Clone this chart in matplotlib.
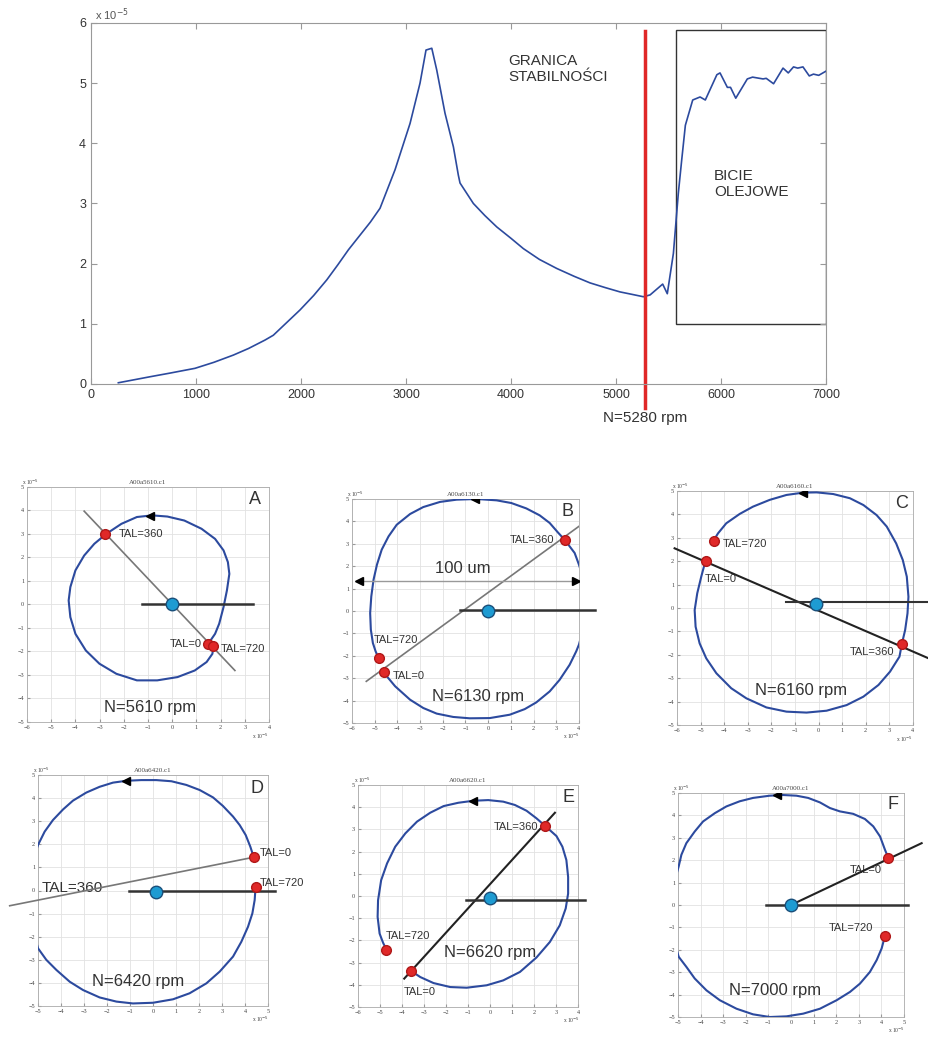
import matplotlib.pyplot as plt
from matplotlib.patches import Rectangle

plt.rcParams['font.family'] = ['Liberation Sans', 'DejaVu Sans']

# amplituda drgań wału w funkcji prędkości obrotowej (x 1e-5)
predkosc = [260, 562, 750, 990, 1170, 1355, 1500, 1657, 1736, 1990, 2120, 2245, 2350, 2451,
            2560, 2660, 2752, 2895, 3038, 3133, 3190, 3245, 3292, 3371, 3451, 3498, 3514,
            3641, 3750, 3864, 4000, 4117, 4270, 4435, 4600, 4752, 4900, 5038, 5150, 5260,
            5324, 5444, 5488, 5546, 5593, 5625, 5660, 5730, 5800, 5850, 5960, 5990, 6060,
            6090, 6140, 6250, 6300, 6400, 6430, 6500, 6590, 6640, 6690, 6730, 6780, 6840,
            6880, 6930, 7000]
amplituda = [0.02, 0.12, 0.18, 0.26, 0.36, 0.48, 0.59, 0.73, 0.81, 1.23, 1.47, 1.73, 1.98,
             2.23, 2.47, 2.69, 2.92, 3.56, 4.33, 5.00, 5.55, 5.58, 5.22, 4.50, 3.94, 3.47,
             3.34, 3.00, 2.80, 2.61, 2.42, 2.25, 2.07, 1.92, 1.79, 1.68, 1.60, 1.53, 1.49,
             1.45, 1.48, 1.66, 1.50, 2.17, 3.17, 3.72, 4.30, 4.72, 4.77, 4.72, 5.14, 5.17,
             4.93, 4.93, 4.75, 5.07, 5.10, 5.07, 5.08, 4.99, 5.25, 5.17, 5.27, 5.25, 5.27,
             5.12, 5.15, 5.13, 5.20]
granica = 5280
bicie_x = [5570, 7000]
bicie_y = [1.0, 5.88]

# orbity czopa (x 1e-5), od TAL=0 do TAL=720
orbA_x = [1.49, 1.77, 1.94, 2.12, 2.26, 2.36, 2.30, 2.12, 1.77, 1.21, 0.50, -0.20, -0.83,
          -1.46, -2.10, -2.73, -3.22, -3.64, -4.00, -4.21, -4.28, -4.21, -4.00, -3.57, -3.01,
          -2.31, -1.46, -0.62, 0.22, 0.93, 1.42, 1.66, 1.70]
orbA_y = [-1.67, -1.25, -0.82, -0.11, 0.60, 1.30, 1.80, 2.30, 2.79, 3.22, 3.57, 3.74, 3.79,
          3.72, 3.43, 3.00, 2.58, 2.08, 1.45, 0.74, 0.17, -0.54, -1.25, -1.96, -2.52, -2.95,
          -3.23, -3.23, -3.09, -2.81, -2.45, -2.10, -1.77]
orbB_x = [-4.61, -4.10, -3.44, -2.86, -2.27, -1.54, -0.81, 0.07, 0.95, 1.61, 2.12, 2.71,
          3.15, 3.59, 3.88, 4.00, 4.25, 4.32, 4.25, 4.00, 3.81, 3.37, 3.07, 2.71, 2.27, 1.68,
          1.02, 0.37, -0.51, -1.39, -2.12, -2.86, -3.44, -4.03, -4.39, -4.69, -4.90, -5.05,
          -5.15, -5.20, -5.17, -5.08, -4.96, -4.83]
orbB_y = [-2.74, -3.36, -3.96, -4.33, -4.58, -4.73, -4.79, -4.78, -4.63, -4.38, -4.08, -3.59,
          -3.07, -2.40, -1.80, -1.50, -0.54, 0.36, 1.25, 2.07, 2.59, 3.18, 3.51, 3.93, 4.27,
          4.58, 4.82, 4.94, 5.00, 4.97, 4.87, 4.64, 4.33, 3.85, 3.33, 2.74, 2.07, 1.40, 0.65,
          -0.09, -0.83, -1.43, -1.80, -2.10]
orbC_x = [-4.79, -4.97, -5.14, -5.25, -5.21, -5.04, -4.76, -4.33, -3.70, -3.06, -2.21, -1.36,
          -0.51, 0.34, 1.19, 1.90, 2.54, 3.03, 3.43, 3.53, 3.67, 3.77, 3.81, 3.74, 3.57, 3.29,
          2.89, 2.46, 1.90, 1.33, 0.62, -0.08, -0.65, -1.36, -2.07, -2.78, -3.34, -3.91,
          -4.26, -4.45]
orbC_y = [2.02, 1.34, 0.63, -0.09, -0.80, -1.51, -2.15, -2.79, -3.43, -3.86, -4.25, -4.43,
          -4.47, -4.39, -4.15, -3.79, -3.29, -2.72, -2.08, -1.54, -0.94, -0.23, 0.48, 1.34,
          2.05, 2.76, 3.48, 3.97, 4.40, 4.69, 4.87, 4.94, 4.93, 4.83, 4.62, 4.33, 4.02, 3.62,
          3.19, 2.88]
orbD_x = [4.38, 4.23, 4.03, 3.77, 3.48, 3.04, 2.61, 2.03, 1.45, 0.80, 0.14, -0.51, -1.16,
          -1.74, -2.32, -2.90, -3.48, -3.91, -4.35, -4.71, -5.00, -5.22, -5.33, -5.32, -5.22,
          -5.00, -4.64, -4.20, -3.62, -3.04, -2.32, -1.59, -0.87, 0.00, 0.87, 1.59, 2.32,
          2.90, 3.48, 3.84, 4.13, 4.32, 4.42, 4.46]
orbD_y = [1.44, 1.90, 2.40, 2.83, 3.20, 3.66, 4.03, 4.35, 4.57, 4.73, 4.78, 4.78, 4.75, 4.67,
          4.49, 4.24, 3.89, 3.51, 3.05, 2.55, 1.97, 1.32, 0.31, -0.70, -1.71, -2.50, -3.00,
          -3.44, -3.95, -4.31, -4.63, -4.81, -4.89, -4.86, -4.71, -4.45, -4.02, -3.51, -2.86,
          -2.22, -1.57, -0.99, -0.41, 0.17]
orbE_x = [-3.58, -3.17, -2.57, -1.81, -1.06, -0.15, 0.60, 1.36, 2.11, 2.72, 3.17, 3.44, 3.55,
          3.55, 3.47, 3.29, 3.02, 2.49, 2.11, 1.66, 1.13, 0.60, -0.08, -0.76, -1.44, -2.11,
          -2.72, -3.32, -3.85, -4.31, -4.68, -4.95, -5.09, -5.11, -5.02, -4.86, -4.71]
orbE_y = [-3.38, -3.65, -3.92, -4.10, -4.13, -4.02, -3.80, -3.42, -2.77, -2.07, -1.32, -0.56,
          0.11, 0.86, 1.62, 2.22, 2.70, 3.17, 3.50, 3.84, 4.10, 4.25, 4.32, 4.29, 4.20, 4.05,
          3.75, 3.35, 2.82, 2.22, 1.47, 0.71, -0.19, -0.94, -1.69, -2.11, -2.41]
orbF_x = [4.31, 4.16, 3.94, 3.64, 3.27, 2.75, 2.16, 1.72, 1.28, 0.76, 0.24, -0.35, -0.94,
          -1.68, -2.27, -2.86, -3.37, -3.89, -4.26, -4.63, -4.85, -4.97, -5.22, -5.30, -5.22,
          -4.97, -4.63, -4.26, -3.74, -3.15, -2.41, -1.68, -0.94, -0.20, 0.54, 1.28, 2.02,
          2.61, 3.05, 3.49, 3.79, 4.01, 4.16]
orbF_y = [2.09, 2.46, 3.06, 3.51, 3.84, 4.07, 4.18, 4.33, 4.58, 4.78, 4.88, 4.91, 4.88, 4.78,
          4.63, 4.40, 4.10, 3.73, 3.28, 2.76, 2.24, 1.72, 0.82, -0.22, -1.42, -2.31, -2.76,
          -3.28, -3.81, -4.25, -4.63, -4.88, -5.00, -4.97, -4.85, -4.63, -4.25, -3.88, -3.51,
          -2.99, -2.46, -1.94, -1.37]

NIEBIESKI = '#2c4a9e'
CZERWONY = '#e02828'
TEKST = '#333333'

fig = plt.figure(figsize=(9.29, 10.4), dpi=100)

# --- wykres amplitudy ---
ax = fig.add_axes([0.098, 0.6308, 0.7912, 0.3471])
ax.plot(predkosc, amplituda, color=NIEBIESKI, lw=1.2, solid_joinstyle='round')
ax.set_xlim(0, 7000)
ax.set_ylim(0, 6)
ax.set_xticks(range(0, 7001, 1000))
ax.set_yticks(range(0, 7))
ax.tick_params(direction='in', top=True, right=True, labelsize=9, labelcolor=TEKST,
               color='#999999', length=4)
for s in ax.spines.values():
    s.set_color('#999999')
ax.text(0.005, 1.008, r'x 10$^{-5}$', transform=ax.transAxes, fontsize=8, color='#555555')
ax.plot([granica, granica], [-0.4, 5.87], color=CZERWONY, lw=2.5, clip_on=False)
ax.text(granica, -0.45, 'N=%d rpm' % granica, ha='center', va='top', fontsize=11, color=TEKST)
ax.text(3970, 5.48, 'GRANICA\nSTABILNOŚCI', ha='left', va='top', fontsize=11, color=TEKST)
ax.add_patch(Rectangle((bicie_x[0], bicie_y[0]), bicie_x[1] - bicie_x[0],
                       bicie_y[1] - bicie_y[0], fill=False, edgecolor='#333333', lw=1))
ax.text(5935, 3.57, 'BICIE\nOLEJOWE', ha='left', va='top', fontsize=11, color=TEKST)


def orbita(pos, xlim, tytul, x, y, litera, lit_xy, strzalka):
    a = fig.add_axes(pos)
    a.set_xlim(*xlim)
    a.set_ylim(-5, 5)
    a.set_xticks(range(xlim[0], xlim[1] + 1))
    a.set_yticks(range(-5, 6))
    a.grid(True, color='#e2e2e2', lw=0.6)
    a.set_axisbelow(True)
    a.tick_params(direction='in', labelsize=4.5, length=2, color='#999999', pad=2,
                  labelcolor='#444444')
    for lab in a.get_xticklabels() + a.get_yticklabels():
        lab.set_family('Liberation Serif')
    for s in a.spines.values():
        s.set_color('#aaaaaa')
        s.set_linewidth(0.6)
    a.set_title(tytul, fontsize=5, family='Liberation Serif', color='#444444', pad=2)
    a.text(-0.02, 1.01, r'x 10$^{-5}$', transform=a.transAxes, fontsize=4,
           family='Liberation Serif', color='#444444')
    a.text(0.93, -0.07, r'x 10$^{-5}$', transform=a.transAxes, fontsize=4,
           family='Liberation Serif', color='#444444')
    a.plot(x, y, color=NIEBIESKI, lw=1.5, zorder=3, solid_joinstyle='round')
    a.plot(*strzalka, marker='<', color='black', ms=6, zorder=4)
    a.text(*lit_xy, litera, fontsize=13, color=TEKST, ha='center', va='center')
    return a


def punkty(a, tal, srodek):
    for (px, py) in tal:
        a.plot(px, py, 'o', color=CZERWONY, mec='#b01818', ms=7, zorder=6, clip_on=False)
    a.plot(*srodek, 'o', color='#1e9bd2', mec='#1a4f7a', ms=9, zorder=6)


# A
a = orbita([0.0291, 0.3058, 0.2605, 0.2260], (-6, 4), 'A00a5610.c1', orbA_x, orbA_y,
           'A', (3.4, 4.45), (-0.9, 3.78))
a.plot([-3.64, 2.59], [3.97, -2.81], color='#777777', lw=1.2, zorder=4)
a.plot([-1.25, 3.32], [0.03, 0.03], color='#333333', lw=1.8, zorder=4)
punkty(a, [(1.49, -1.67), (1.70, -1.77), (-2.76, 2.98)], (0, 0))
a.text(-2.2, 2.98, 'TAL=360', fontsize=8, color=TEKST, va='center')
a.text(1.2, -1.7, 'TAL=0', fontsize=8, color=TEKST, va='center', ha='right')
a.text(2.0, -1.9, 'TAL=720', fontsize=8, color=TEKST, va='center')
a.text(-0.9, -4.4, 'N=5610 rpm', fontsize=12, color=TEKST, ha='center', va='center')

# B
a = orbita([0.3789, 0.3048, 0.2443, 0.2154], (-6, 4), 'A00a6130.c1', orbB_x, orbB_y,
           'B', (3.5, 4.45), (-0.6, 4.98))
a.plot([-5.37, 4.0], [-3.14, 3.78], color='#777777', lw=1.2, zorder=4)
a.plot([-1.22, 4.69], [0.03, 0.03], color='#333333', lw=1.8, zorder=4, clip_on=False)
a.plot([-5.78, 3.95], [1.35, 1.35], color='#999999', lw=1.0, zorder=4)
a.plot(-5.7, 1.35, marker='<', color='black', ms=6, zorder=5)
a.plot(3.87, 1.35, marker='>', color='black', ms=6, zorder=5)
a.text(-1.1, 1.9, '100 um', fontsize=12, color=TEKST, ha='center', va='center')
punkty(a, [(3.37, 3.18), (-4.83, -2.1), (-4.61, -2.74)], (0, 0))
a.text(2.9, 3.18, 'TAL=360', fontsize=8, color=TEKST, va='center', ha='right')
a.text(-5.05, -1.28, 'TAL=720', fontsize=8, color=TEKST, va='center')
a.text(-4.2, -2.9, 'TAL=0', fontsize=8, color=TEKST, va='center')
a.text(-0.45, -3.8, 'N=6130 rpm', fontsize=12, color=TEKST, ha='center', va='center')

# C
a = orbita([0.7287, 0.3029, 0.2540, 0.2250], (-6, 4), 'A00a6160.c1', orbC_x, orbC_y,
           'C', (3.5, 4.45), (-0.65, 4.93))
a.plot([-6.1, 4.66], [2.55, -2.15], color='#222222', lw=1.5, zorder=4, clip_on=False)
a.plot([-1.39, 4.72], [0.26, 0.26], color='#333333', lw=1.5, zorder=4, clip_on=False)
punkty(a, [(-4.45, 2.88), (-4.79, 2.02), (3.53, -1.54)], (-0.11, 0.16))
a.text(-4.05, 2.73, 'TAL=720', fontsize=8, color=TEKST, va='center')
a.text(-4.82, 1.22, 'TAL=0', fontsize=8, color=TEKST, va='center')
a.text(3.2, -1.87, 'TAL=360', fontsize=8, color=TEKST, va='center', ha='right')
a.text(-0.75, -3.53, 'N=6160 rpm', fontsize=12, color=TEKST, ha='center', va='center')

# D
a = orbita([0.0409, 0.0327, 0.2476, 0.2221], (-5, 5), 'A00a6420.c1', orbD_x, orbD_y,
           'D', (4.5, 4.42), (-1.16, 4.76))
a.plot([-6.23, 4.38], [-0.66, 1.44], color='#777777', lw=1.2, zorder=4, clip_on=False)
a.plot([-1.04, 5.29], [-0.02, -0.02], color='#333333', lw=1.8, zorder=4, clip_on=False)
punkty(a, [(4.38, 1.44), (4.46, 0.17)], (0.12, -0.08))
a.text(4.66, 1.61, 'TAL=0', fontsize=8, color=TEKST, va='center')
a.text(4.66, 0.34, 'TAL=720', fontsize=8, color=TEKST, va='center')
a.text(-4.86, 0.1, 'TAL=360', fontsize=11, color=TEKST, va='center')
a.text(-0.65, -3.95, 'N=6420 rpm', fontsize=12, color=TEKST, ha='center', va='center')

# E
a = orbita([0.3854, 0.0317, 0.2368, 0.2135], (-6, 4), 'A00a6620.c1', orbE_x, orbE_y,
           'E', (3.55, 4.43), (-0.76, 4.29))
a.plot([-3.9, 2.95], [-3.72, 3.75], color='#222222', lw=1.5, zorder=4)
a.plot([-1.09, 4.3], [-0.19, -0.19], color='#333333', lw=1.8, zorder=4, clip_on=False)
punkty(a, [(-3.58, -3.38), (2.49, 3.17), (-4.71, -2.41)], (0, -0.11))
a.text(2.2, 3.12, 'TAL=360', fontsize=8, color=TEKST, va='center', ha='right')
a.text(-4.76, -1.8, 'TAL=720', fontsize=8, color=TEKST, va='center')
a.text(-3.93, -4.32, 'TAL=0', fontsize=8, color=TEKST, va='center')
a.text(0.0, -2.56, 'N=6620 rpm', fontsize=12, color=TEKST, ha='center', va='center')

# F
a = orbita([0.7298, 0.0221, 0.2433, 0.2154], (-5, 5), 'A00a7000.c1', orbF_x, orbF_y,
           'F', (4.53, 4.48), (-0.64, 4.9))
a.plot([0, 5.78], [0, 2.76], color='#222222', lw=1.5, zorder=4, clip_on=False)
a.plot([-1.09, 5.19], [0, 0], color='#333333', lw=1.8, zorder=4, clip_on=False)
punkty(a, [(4.31, 2.09), (4.16, -1.37)], (0, 0))
a.text(2.6, 1.57, 'TAL=0', fontsize=8, color=TEKST, va='center')
a.text(1.65, -1.04, 'TAL=720', fontsize=8, color=TEKST, va='center')
a.text(-0.72, -3.8, 'N=7000 rpm', fontsize=12, color=TEKST, ha='center', va='center')

fig.savefig('out.png', dpi=100)
